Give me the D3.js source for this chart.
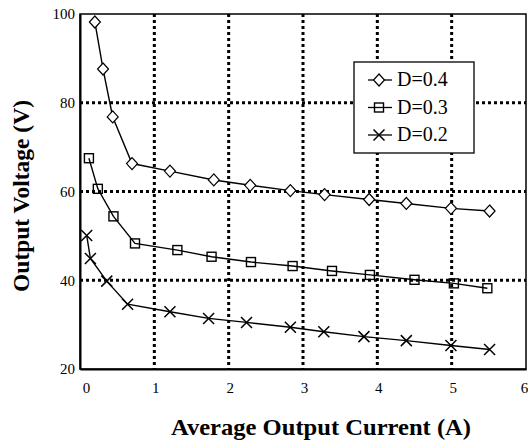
<!DOCTYPE html>
<html>
<head>
<meta charset="utf-8">
<script src="https://cdn.jsdelivr.net/npm/d3@7"></script>
<style>
  body { margin: 0; background: #fff; }
  svg { display: block; }
</style>
</head>
<body>
<div id="app"></div>
<script>
// values
const current04 = [0.2, 0.31, 0.44, 0.7, 1.21, 1.8, 2.29, 2.83, 3.29, 3.89, 4.39, 4.99, 5.51];
const voltage04 = [98.2, 87.6, 76.8, 66.3, 64.6, 62.6, 61.4, 60.2, 59.3, 58.2, 57.3, 56.2, 55.6];
const current03 = [0.12, 0.24, 0.45, 0.74, 1.31, 1.77, 2.3, 2.86, 3.39, 3.9, 4.5, 5.03, 5.48];
const voltage03 = [67.5, 60.6, 54.4, 48.3, 46.8, 45.3, 44.1, 43.2, 42.1, 41.2, 40.1, 39.3, 38.2];
const current02 = [0.09, 0.14, 0.36, 0.64, 1.21, 1.73, 2.24, 2.83, 3.28, 3.82, 4.39, 4.99, 5.51];
const voltage02 = [50.1, 44.9, 39.8, 34.6, 32.9, 31.4, 30.5, 29.4, 28.4, 27.3, 26.4, 25.3, 24.4];
const seriesNames = ["D=0.4", "D=0.3", "D=0.2"];
const xTicks = [0, 1, 2, 3, 4, 5, 6];
const yTicks = [20, 40, 60, 80, 100];
const xGrid = [1, 2, 3, 4, 5];
const yGrid = [40, 60, 80];

const w = 528, h = 443;
const padL = 80, padR = 526, padT = 14, padB = 369;
const serif = "'Liberation Serif', 'Times New Roman', serif";

const svg = d3.select("#app").append("svg")
  .attr("width", w)
  .attr("height", h)
  .style("font-family", serif);

const x = d3.scaleLinear().domain([0, 6]).range([padL, padR]);
const y = d3.scaleLinear().domain([20, 100]).range([padB, padT]);

// dotted grid
svg.append("g").selectAll("line").data(xGrid).enter().append("line")
  .attr("x1", d => x(d)).attr("x2", d => x(d))
  .attr("y1", padT).attr("y2", padB)
  .attr("stroke", "#000").attr("stroke-width", 3).attr("stroke-dasharray", "3,3");
svg.append("g").selectAll("line").data(yGrid).enter().append("line")
  .attr("x1", padL).attr("x2", padR)
  .attr("y1", d => y(d)).attr("y2", d => y(d))
  .attr("stroke", "#000").attr("stroke-width", 3).attr("stroke-dasharray", "3,3");

// frame
svg.append("rect")
  .attr("x", padL).attr("y", padT)
  .attr("width", padR - padL).attr("height", padB - padT)
  .attr("fill", "none").attr("stroke", "#000").attr("stroke-width", 1.5);

// axes (labels only, no tick marks)
const xAxis = d3.axisBottom(x).tickValues(xTicks).tickFormat(d3.format("d")).tickSize(0).tickPadding(13);
const yAxis = d3.axisLeft(y).tickValues(yTicks).tickFormat(d3.format("d")).tickSize(0).tickPadding(5);

const gx = svg.append("g").attr("transform", "translate(0," + padB + ")").call(xAxis)
  .attr("font-family", serif).attr("font-size", 15);
gx.select(".domain").attr("stroke-width", 2);
gx.selectAll("text").attr("fill", "#000")
  .attr("dx", d => d === 0 ? 6 : (d === 6 ? -2 : 1));

const gy = svg.append("g").attr("transform", "translate(" + padL + ",0)").call(yAxis)
  .attr("font-family", serif).attr("font-size", 15);
gy.select(".domain").attr("stroke-width", 2);
gy.selectAll("text").attr("fill", "#000");

// axis titles
svg.append("text")
  .attr("x", 321).attr("y", 435)
  .attr("text-anchor", "middle")
  .attr("textLength", 300).attr("lengthAdjust", "spacingAndGlyphs")
  .style("font-size", "23px").style("font-weight", "bold")
  .text("Average Output Current (A)");

svg.append("text")
  .attr("transform", "rotate(-90)")
  .attr("x", -196).attr("y", 29)
  .attr("text-anchor", "middle")
  .style("font-size", "23.5px").style("font-weight", "bold")
  .text("Output Voltage (V)");

// markers
function drawMarker(g, type) {
  if (type === "diamond") {
    g.append("path").attr("d", "M0,-6L5.5,0L0,6L-5.5,0Z")
      .attr("fill", "#fff").attr("stroke", "#000").attr("stroke-width", 1.2);
  } else if (type === "square") {
    g.append("rect").attr("x", -4.5).attr("y", -4.5).attr("width", 9).attr("height", 9)
      .attr("fill", "none").attr("stroke", "#000").attr("stroke-width", 1.4);
  } else {
    g.append("path").attr("d", "M-5.5,-5.5L5.5,5.5M-5.5,5.5L5.5,-5.5")
      .attr("fill", "none").attr("stroke", "#000").attr("stroke-width", 1.5);
  }
}

const series = [
  { name: seriesNames[0], xs: current04, ys: voltage04, marker: "diamond" },
  { name: seriesNames[1], xs: current03, ys: voltage03, marker: "square" },
  { name: seriesNames[2], xs: current02, ys: voltage02, marker: "cross" }
];

const line = d3.line().x(d => x(d[0])).y(d => y(d[1]));

series.forEach(s => {
  const pts = s.xs.map((v, i) => [v, s.ys[i]]);
  svg.append("path").datum(pts)
    .attr("d", line)
    .attr("fill", "none").attr("stroke", "#000").attr("stroke-width", 1.4);
  svg.append("g").selectAll("g").data(pts).enter().append("g")
    .attr("transform", d => "translate(" + x(d[0]) + "," + y(d[1]) + ")")
    .each(function () { drawMarker(d3.select(this), s.marker); });
});

// legend
const lg = svg.append("g").attr("transform", "translate(354,62)");
lg.append("rect").attr("width", 120).attr("height", 91)
  .attr("fill", "#fff").attr("stroke", "#000").attr("stroke-width", 1.3);
series.forEach((s, i) => {
  const row = lg.append("g").attr("transform", "translate(0," + (18 + i * 27.5) + ")");
  row.append("line").attr("x1", 14).attr("x2", 38).attr("y1", 0).attr("y2", 0)
    .attr("stroke", "#000").attr("stroke-width", 1.3);
  drawMarker(row.append("g").attr("transform", "translate(25,0)"), s.marker);
  row.append("text").attr("x", 43).attr("y", 6)
    .style("font-size", "20px").text(s.name);
});
</script>
</body>
</html>
